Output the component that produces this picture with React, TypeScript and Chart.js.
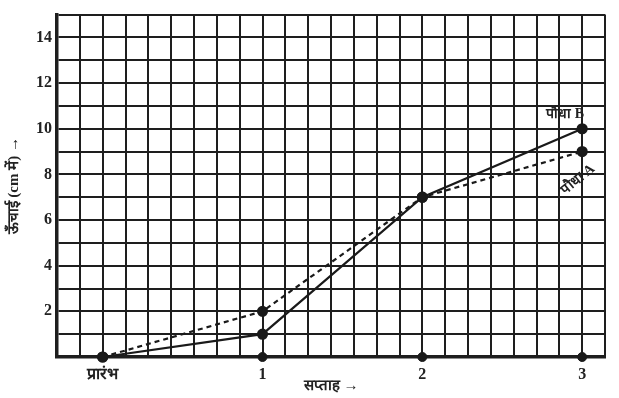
import React, { useEffect, useRef } from "react";
import { Chart, registerables } from "chart.js";

Chart.register(...registerables);

const categories = ["प्रारंभ", "1", "2", "3"];
const plantA = [0, 2, 7, 9];
const plantB = [0, 1, 7, 10];
const axisDots = [0, 0, 0, 0];
const seriesNames = ["पौधा A", "पौधा B"];
const yTitle = "ऊँचाई (cm में) →";
const xTitle = "सप्ताह →";
const cellsPerWeek = 7;

const FONT = "'Liberation Serif', 'Noto Serif', serif";

const toPts = (arr: number[]) => arr.map((v, i) => ({ x: i * cellsPerWeek, y: v }));

const labelPlugin = {
  id: "plantLabels",
  afterDatasetsDraw(chart: any) {
    const ctx = chart.ctx;
    const xs = chart.scales.x;
    const ys = chart.scales.y;
    const last = categories.length - 1;
    const xA = xs.getPixelForValue(last * cellsPerWeek);
    const yA = ys.getPixelForValue(plantA[last]);
    const yB = ys.getPixelForValue(plantB[last]);
    ctx.save();
    ctx.fillStyle = "#222";
    ctx.font = `bold 14px ${FONT}`;
    ctx.textAlign = "center";
    ctx.textBaseline = "middle";
    ctx.fillText(seriesNames[1], xA - 17, yB - 14);
    ctx.translate(xA - 4, yA + 28);
    ctx.rotate(-Math.PI / 4.6);
    ctx.fillText(seriesNames[0], 0, 0);
    ctx.restore();
  },
};

export default function App() {
  const ref = useRef<HTMLCanvasElement>(null);
  useEffect(() => {
    document.body.style.margin = "0";
    const chart = new Chart(ref.current!, {
      type: "line",
      data: {
        datasets: [
          {
            label: seriesNames[0],
            data: toPts(plantA),
            borderColor: "#1a1a1a",
            backgroundColor: "#1a1a1a",
            borderWidth: 2.2,
            borderDash: [5, 4],
            pointRadius: 4.5,
            pointHoverRadius: 4.5,
            clip: false as any,
            order: 2,
          },
          {
            label: seriesNames[1],
            data: toPts(plantB),
            borderColor: "#1a1a1a",
            backgroundColor: "#1a1a1a",
            borderWidth: 2.2,
            pointRadius: 4.5,
            pointHoverRadius: 4.5,
            clip: false as any,
            order: 1,
          },
          {
            label: "axis",
            data: toPts(axisDots),
            showLine: false,
            borderColor: "#1a1a1a",
            backgroundColor: "#1a1a1a",
            pointRadius: 4.5,
            clip: false as any,
            order: 0,
          },
        ],
      },
      options: {
        responsive: false,
        animation: false,
        layout: { padding: { top: 14, right: 14, left: 0, bottom: 0 } },
        plugins: { legend: { display: false }, tooltip: { enabled: false } },
        scales: {
          x: {
            type: "linear",
            min: -2,
            max: 22,
            afterFit: (s: any) => {
              s.height = 41;
            },
            ticks: {
              stepSize: 1,
              autoSkip: false,
              maxRotation: 0,
              padding: 8,
              color: "#222",
              font: { family: FONT, size: 16, weight: "bold" },
              callback: (v: any) => (Number(v) % cellsPerWeek === 0 ? categories[Number(v) / cellsPerWeek] : ""),
            },
            grid: { color: "#1e1e1e", lineWidth: 2, drawTicks: false },
            border: { color: "#1e1e1e", width: 3.5 },
            title: {
              display: true,
              text: xTitle,
              color: "#222",
              padding: { top: 0, bottom: 3 },
              font: { family: FONT, size: 15, weight: "bold" },
            },
          },
          y: {
            type: "linear",
            min: 0,
            max: 15,
            afterFit: (s: any) => {
              s.width = 57;
            },
            ticks: {
              stepSize: 1,
              autoSkip: false,
              padding: 5,
              color: "#222",
              font: { family: FONT, size: 16, weight: "bold" },
              callback: (v: any) => {
                const n = Number(v);
                return n > 0 && n < 15 && n % 2 === 0 ? String(n) : "";
              },
            },
            grid: { color: "#1e1e1e", lineWidth: 2, drawTicks: false },
            border: { color: "#1e1e1e", width: 3.5 },
            title: {
              display: true,
              text: yTitle,
              color: "#222",
              padding: { top: 5, bottom: 0 },
              font: { family: FONT, size: 15, weight: "bold" },
            },
          },
        },
      },
      plugins: [labelPlugin],
    });
    return () => chart.destroy();
  }, []);
  return (
    <div style={{ position: "fixed", left: 0, top: 0, width: 619, height: 398, background: "#fff" }}>
      <canvas ref={ref} width={619} height={398} />
    </div>
  );
}
